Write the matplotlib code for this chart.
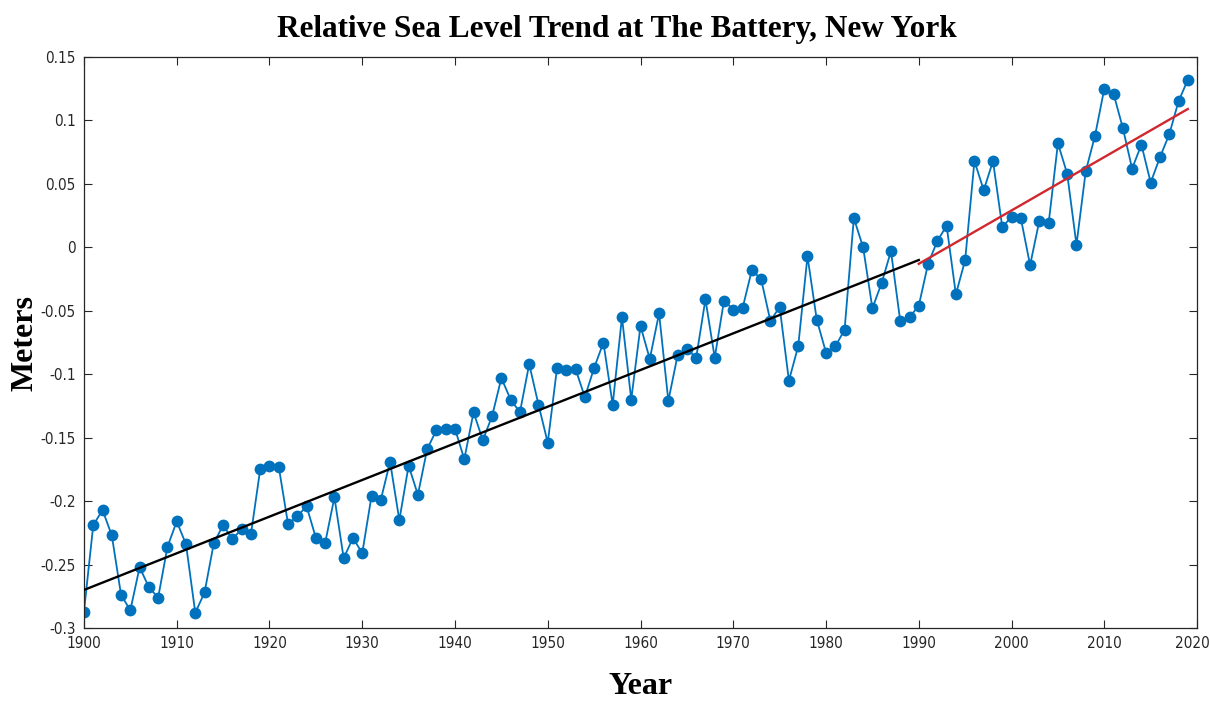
import numpy as np
import matplotlib.pyplot as plt
from matplotlib.ticker import FuncFormatter
from matplotlib.transforms import ScaledTranslation

# ── Data ─────────────────────────────────────────────────────────────────────
years = np.arange(1900, 2020)

sea_level = [
    -0.287, -0.219, -0.207, -0.227, -0.274, -0.286, -0.252, -0.268, -0.276, -0.236,  # 1900s
    -0.216, -0.234, -0.288, -0.272, -0.233, -0.219, -0.230, -0.222, -0.226, -0.175,  # 1910s
    -0.172, -0.173, -0.218, -0.212, -0.204, -0.229, -0.233, -0.197, -0.245, -0.229,  # 1920s
    -0.241, -0.196, -0.199, -0.169, -0.215, -0.172, -0.195, -0.159, -0.144, -0.143,  # 1930s
    -0.143, -0.167, -0.130, -0.152, -0.133, -0.103, -0.120, -0.130, -0.092, -0.124,  # 1940s
    -0.154, -0.095, -0.097, -0.096, -0.118, -0.095, -0.075, -0.124, -0.055, -0.120,  # 1950s
    -0.062, -0.088, -0.052, -0.121, -0.085, -0.080, -0.087, -0.041, -0.087, -0.042,  # 1960s
    -0.049, -0.048, -0.018, -0.025, -0.058, -0.047, -0.105, -0.078, -0.007, -0.057,  # 1970s
    -0.083, -0.078, -0.065,  0.023,  0.000, -0.048, -0.028, -0.003, -0.058, -0.055,  # 1980s
    -0.046, -0.013,  0.005,  0.017, -0.037, -0.010,  0.068,  0.045,  0.068,  0.016,  # 1990s
     0.024,  0.023, -0.014,  0.021,  0.019,  0.082,  0.058,  0.002,  0.060,  0.088,  # 2000s
     0.125,  0.121,  0.094,  0.062,  0.081,  0.051,  0.071,  0.089,  0.115,  0.132,  # 2010s
]

# trend lines (end points)
trend_early_years = [1900, 1990]
trend_early_vals  = [-0.270, -0.010]
trend_late_years  = [1990, 2019]
trend_late_vals   = [-0.013, 0.109]

x_ticks = np.arange(1900, 2021, 10)
y_ticks = [-0.3, -0.25, -0.2, -0.15, -0.1, -0.05, 0, 0.05, 0.1, 0.15]

# ── Plot ─────────────────────────────────────────────────────────────────────
plt.rcParams['axes.unicode_minus'] = False
TICK_FONT  = ['DejaVu Sans']
LABEL_FONT = ['Liberation Serif', 'DejaVu Serif']

fig = plt.figure(figsize=(12.10, 7.02), dpi=100)
ax = fig.add_axes([0.0694, 0.1054, 0.9199, 0.8134])

ax.plot(years, sea_level, color='#0072BD', lw=1.3, marker='o', ms=8.5,
        markeredgewidth=0, zorder=2)
ax.plot(trend_early_years, trend_early_vals, color='black', lw=1.7, zorder=3)
ax.plot(trend_late_years, trend_late_vals, color='#D0282E', lw=1.7, zorder=3)

ax.set_xlim(1900, 2020)
ax.set_ylim(-0.3, 0.15)
ax.set_xticks(x_ticks)
ax.set_yticks(y_ticks)
ax.yaxis.set_major_formatter(FuncFormatter(lambda v, p: f'{v:g}'))

ax.tick_params(direction='in', top=True, right=True, length=6, width=0.8,
               colors='#262626', labelsize=11, pad=6)
for lbl in ax.get_xticklabels() + ax.get_yticklabels():
    lbl.set_family(TICK_FONT)
    lbl.set_fontstretch('condensed')
# nudge the last year label so it stays inside the figure
last = ax.get_xticklabels()[-1]
last.set_transform(last.get_transform()
                   + ScaledTranslation(-5 / 100, 0, fig.dpi_scale_trans))
for sp in ax.spines.values():
    sp.set_color('#262626')
    sp.set_linewidth(0.9)

fig.text(617 / 1210, 1 - 30 / 702,
         'Relative Sea Level Trend at The Battery, New York',
         family=LABEL_FONT, fontweight='bold', fontsize=22.5,
         ha='center', va='center')
ax.set_xlabel('Year', family=LABEL_FONT, fontweight='bold', fontsize=23,
              va='center', ha='center')
ax.set_ylabel('Meters', family=LABEL_FONT, fontweight='bold', fontsize=23,
              va='center', ha='center')
ax.xaxis.set_label_coords(0.5, -0.103)
ax.yaxis.set_label_coords(-0.053, 0.5)

fig.savefig('out.png', dpi=100)
